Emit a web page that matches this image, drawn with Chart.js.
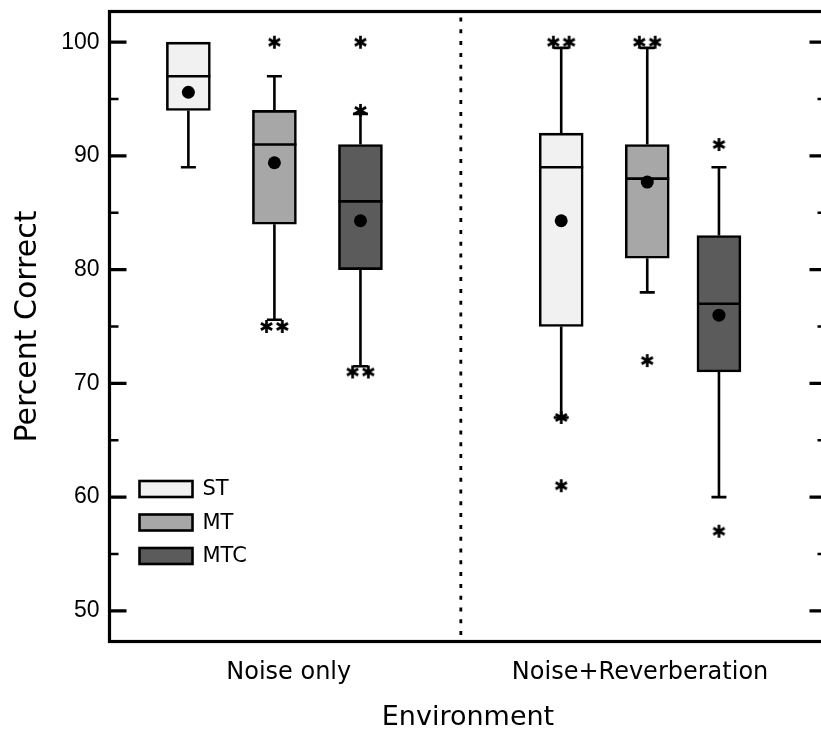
<!DOCTYPE html>
<html>
<head>
<meta charset="utf-8">
<script src="https://cdn.jsdelivr.net/npm/chart.js@4.4.1/dist/chart.umd.min.js"></script>
<style>
    html, body { margin: 0; padding: 0; background: #fff; overflow: hidden; }
    #wrap { width: 821px; height: 731px; overflow: hidden; }
    canvas { display: block; }
</style>
</head>
<body>
<div id="wrap"><canvas id="box-chart" width="835" height="731"></canvas></div>
<script>
// Data, [series][group]
const groups = ['Noise only', 'Noise+Reverberation'];
const seriesNames = ['ST', 'MT', 'MTC'];
const yTicks = [50, 60, 70, 80, 90, 100];
const yMinorTicks = [55, 65, 75, 85, 95];

const q1Values = [[94, 75], [84, 81], [80, 71]];
const medianValues = [[97, 89], [91, 88], [86, 77]];
const q3Values = [[100, 92], [94, 91], [91, 83]];
const whiskerLow = [[89, 67], [75.6, 78], [71.5, 60]];
const whiskerHigh = [[100, 99.5], [97, 99.5], [93.7, 89]];
const meanValues = [[95.6, 84.3], [89.4, 87.7], [84.3, 76]];
const outlierValues = [
    [[], [100, 100, 67, 61]],
    [[100, 75, 75], [100, 100, 72]],
    [[100, 94, 71, 71], [91, 57]]
];

// Layout (x axis runs 0..100)
const boxPos = [[11, 63], [23, 75], [35, 85]];
const groupLabelPos = [25, 74];
const dividerPos = 49;
const fillColors = ['#f1f1f1', '#a7a7a7', '#5b5b5b'];

function makeAsterisk(size) {
    const c = document.createElement('canvas');
    c.width = c.height = size;
    const g = c.getContext('2d');
    const cx = size / 2, r = size / 2 - 1;
    g.strokeStyle = '#000';
    g.lineWidth = 2.7;
    g.beginPath();
    for (let k = 0; k < 3; k++) {
        const a = Math.PI / 2 + k * Math.PI / 3;
        g.moveTo(cx + r * Math.cos(a), cx + r * Math.sin(a));
        g.lineTo(cx - r * Math.cos(a), cx - r * Math.sin(a));
    }
    g.stroke();
    return c;
}
const asterisk = makeAsterisk(15);

// spread equal outliers side by side
function outlierPoints() {
    const pts = [];
    seriesNames.forEach((s, si) => {
        groups.forEach((g, gi) => {
            const vals = outlierValues[si][gi];
            const seen = {};
            vals.forEach(v => {
                const n = vals.filter(u => u === v).length;
                const k = seen[v] || 0;
                seen[v] = k + 1;
                pts.push({ x: boxPos[si][gi] + (k - (n - 1) / 2) * 2.2, y: v });
            });
        });
    });
    return pts;
}

const datasets = [
    {
        type: 'scatter',
        label: 'outliers',
        data: outlierPoints(),
        pointStyle: asterisk,
        pointRadius: 7.5
    },
    {
        type: 'scatter',
        label: 'mean',
        data: seriesNames.flatMap((s, si) => groups.map((g, gi) => ({ x: boxPos[si][gi], y: meanValues[si][gi] }))),
        pointStyle: 'circle',
        pointRadius: 6.5,
        backgroundColor: '#000',
        borderColor: '#000',
        borderWidth: 0
    }
];

seriesNames.forEach((s, si) => {
    datasets.push({
        type: 'bar',
        label: s,
        seriesIdx: si,
        data: groups.map((g, gi) => ({ x: boxPos[si][gi], y: [q1Values[si][gi], q3Values[si][gi]] })),
        backgroundColor: fillColors[si],
        borderColor: '#000',
        borderWidth: 2.6,
        borderSkipped: false,
        barThickness: 44,
        grouped: false
    });
});

const boxPlotPlugin = {
    id: 'boxPlot',
    beforeDatasetsDraw(chart) {
        const { ctx, chartArea } = chart;
        const xs = chart.scales.x;
        // dotted divider between environments
        const px = xs.getPixelForValue(dividerPos);
        ctx.save();
        ctx.strokeStyle = '#000';
        ctx.lineWidth = 2.8;
        ctx.setLineDash([4, 7.8]);
        ctx.beginPath();
        ctx.moveTo(px, chartArea.top + 6);
        ctx.lineTo(px, chartArea.bottom);
        ctx.stroke();
        ctx.restore();
    },
    afterDatasetDraw(chart, args) {
        if (args.meta.type !== 'bar') return;
        const { ctx } = chart;
        const ys = chart.scales.y;
        const si = chart.data.datasets[args.index].seriesIdx;
        ctx.save();
        ctx.strokeStyle = '#000';
        ctx.lineWidth = 2.6;
        args.meta.data.forEach((bar, gi) => {
            const x = bar.x;
            const half = bar.width / 2;
            const cap = 7.5;
            const yq1 = ys.getPixelForValue(q1Values[si][gi]);
            const yq3 = ys.getPixelForValue(q3Values[si][gi]);
            const ylo = ys.getPixelForValue(whiskerLow[si][gi]);
            const yhi = ys.getPixelForValue(whiskerHigh[si][gi]);
            const ymed = ys.getPixelForValue(medianValues[si][gi]);
            ctx.beginPath();
            if (ylo > yq1 + 1) {
                ctx.moveTo(x, yq1); ctx.lineTo(x, ylo);
                ctx.moveTo(x - cap, ylo); ctx.lineTo(x + cap, ylo);
            }
            if (yhi < yq3 - 1) {
                ctx.moveTo(x, yq3); ctx.lineTo(x, yhi);
                ctx.moveTo(x - cap, yhi); ctx.lineTo(x + cap, yhi);
            }
            ctx.moveTo(x - half, ymed); ctx.lineTo(x + half, ymed);
            ctx.stroke();
        });
        ctx.restore();
    },
    afterDraw(chart) {
        const { ctx, chartArea } = chart;
        const ys = chart.scales.y;
        const { left, right, top, bottom } = chartArea;
        ctx.save();
        ctx.strokeStyle = '#000';
        ctx.lineWidth = 3.2;
        ctx.strokeRect(left, top, right - left, bottom - top);

        // inward tick marks on both sides
        const drawTicks = (vals, len, width) => {
            ctx.lineWidth = width;
            ctx.beginPath();
            vals.forEach(v => {
                const y = ys.getPixelForValue(v);
                ctx.moveTo(left, y); ctx.lineTo(left + len, y);
                ctx.moveTo(right, y); ctx.lineTo(right - len, y);
            });
            ctx.stroke();
        };
        drawTicks(yTicks, 17, 3.2);
        drawTicks(yMinorTicks, 9, 2.6);

        // legend
        seriesNames.forEach((s, si) => {
            const bx = left + 30;
            const by = 481 + si * 33.5;
            ctx.fillStyle = fillColors[si];
            ctx.fillRect(bx, by, 53, 16);
            ctx.lineWidth = 2.6;
            ctx.strokeRect(bx, by, 53, 16);
            ctx.fillStyle = '#000';
            ctx.font = '21px "DejaVu Sans"';
            ctx.textBaseline = 'middle';
            ctx.fillText(s, bx + 63, by + 9);
        });
        ctx.restore();
    }
};

Chart.defaults.color = '#000';

new Chart(document.getElementById('box-chart'), {
    type: 'bar',
    data: { datasets: datasets },
    options: {
        responsive: false,
        animation: false,
        events: [],
        layout: { padding: { top: 11.5, right: 5, left: 0, bottom: 0 } },
        plugins: {
            legend: { display: false },
            tooltip: { enabled: false }
        },
        scales: {
            x: {
                type: 'linear',
                min: 0,
                max: 100,
                offset: false,
                grid: { display: false, drawTicks: false },
                border: { display: false },
                afterBuildTicks: s => { s.ticks = groupLabelPos.map(v => ({ value: v })); },
                afterFit: s => { s.height = 89.5; s.paddingLeft = 0; s.paddingRight = 0; },
                ticks: {
                    padding: 17,
                    autoSkip: false,
                    maxRotation: 0,
                    font: { family: 'DejaVu Sans', size: 24 },
                    callback: (v, i) => groups[i]
                },
                title: {
                    display: true,
                    text: 'Environment',
                    font: { family: 'DejaVu Sans', size: 27 },
                    padding: { top: 4, bottom: -3 }
                }
            },
            y: {
                type: 'linear',
                min: 47.3,
                max: 102.7,
                grid: { display: false, drawTicks: false },
                border: { display: false },
                afterBuildTicks: s => { s.ticks = yTicks.map(v => ({ value: v })); },
                afterFit: s => { s.width = 109.5; s.paddingTop = 0; s.paddingBottom = 0; },
                ticks: {
                    padding: 10,
                    font: { family: 'Liberation Sans', size: 23 }
                },
                title: {
                    display: true,
                    text: 'Percent Correct',
                    font: { family: 'DejaVu Sans', size: 30 },
                    padding: { top: 10, bottom: 0 }
                }
            }
        }
    },
    plugins: [boxPlotPlugin]
});
</script>
</body>
</html>
